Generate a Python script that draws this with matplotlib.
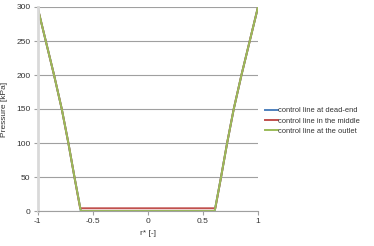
import matplotlib
matplotlib.use("Agg")
import matplotlib.pyplot as plt

plt.rcParams['font.family'] = ['Liberation Sans', 'DejaVu Sans']

r_outer = [-1.0, -0.925, -0.85, -0.78, -0.72, -0.665, -0.607, 0.607, 0.665, 0.72, 0.78, 0.85, 0.925, 1.0]
p_dead_end = [300, 250, 200, 150, 100, 50, 0, 0, 50, 100, 150, 200, 250, 300]
r_middle = [-1.0, -0.925, -0.85, -0.78, -0.72, -0.665, -0.613, 0.613, 0.665, 0.72, 0.78, 0.85, 0.925, 1.0]
p_middle = [300, 250, 200, 150, 100, 50, 4, 4, 50, 100, 150, 200, 250, 300]
p_outlet = [300, 250, 200, 150, 100, 50, 0, 0, 50, 100, 150, 200, 250, 300]

series_labels = ["control line at dead-end", "control line in the middle", "control line at the outlet"]
x_ticks = [-1, -0.5, 0, 0.5, 1]
x_tick_labels = ["-1", "-0.5", "0", "0.5", "1"]
y_ticks = [0, 50, 100, 150, 200, 250, 300]

fig = plt.figure(figsize=(3.74, 2.46), dpi=100)
ax = fig.add_axes([37.5/374, 1 - 211/246, 220.5/374, 204/246])

ax.plot(r_outer, p_dead_end, color='#4f81bd', lw=1.4, label=series_labels[0])
ax.plot(r_middle, p_middle, color='#c0504d', lw=1.4, label=series_labels[1])
ax.plot(r_outer, p_outlet, color='#9bbb59', lw=1.4, label=series_labels[2])

ax.set_xlim(-1, 1)
ax.set_ylim(0, 300)
ax.set_xticks(x_ticks)
ax.set_xticklabels(x_tick_labels)
ax.set_yticks(y_ticks)
ax.grid(axis='y', color='#a0a0a0', lw=0.8)
ax.set_axisbelow(True)
for s in ['top', 'right']:
    ax.spines[s].set_visible(False)
ax.spines['left'].set_color('#d9d9d9')
ax.spines['left'].set_linewidth(2)
ax.spines['bottom'].set_color('#a0a0a0')
ax.spines['bottom'].set_linewidth(0.8)
ax.tick_params(axis='x', length=3, width=0.8, color='#a0a0a0', labelsize=6, pad=2, labelcolor='#333333')
ax.tick_params(axis='y', length=3, width=0.8, color='#a0a0a0', labelsize=6, pad=2, labelcolor='#333333')

ax.set_xlabel("r* [-]", fontsize=6, color='#333333', labelpad=4)
ax.set_ylabel("Pressure [kPa]", fontsize=6, color='#333333', labelpad=6)

fig.legend(loc='upper left', bbox_to_anchor=(262/374, 1 - 104/246), frameon=False,
           fontsize=5.4, handlelength=1.7, handletextpad=0.05, labelspacing=0.4,
           labelcolor='#333333', borderaxespad=0.0)

fig.savefig("out.png", dpi=100)
